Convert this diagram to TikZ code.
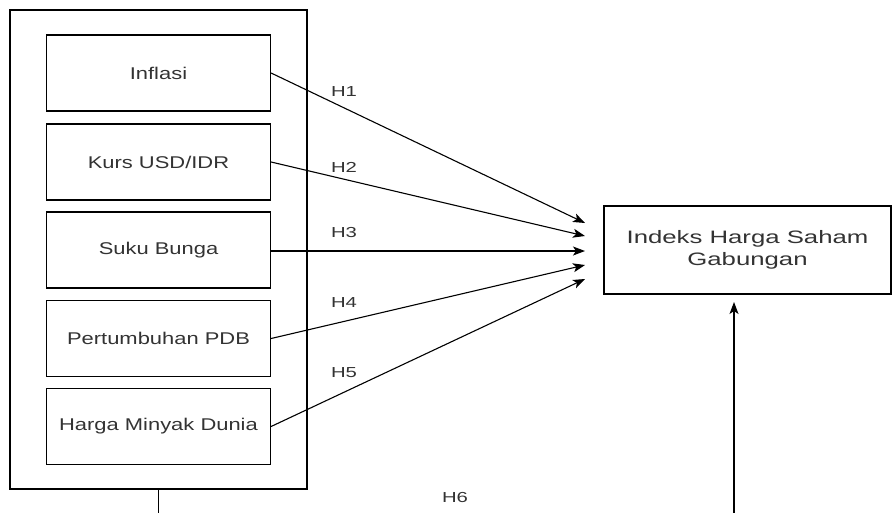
\documentclass[tikz,border=0pt]{standalone}
\usepackage{fontspec}
\usepackage{graphicx}
\setmainfont{Liberation Sans}
\usetikzlibrary{arrows.meta}
\definecolor{txt}{HTML}{333333}
\newcommand{\wtxt}[2]{\scalebox{#1}[1]{#2}}
\tikzset{
  box/.style={draw=black, line width=1.2pt, minimum width=224pt, minimum height=76pt, inner sep=0pt,
    text=txt, font=\fontsize{17}{20}\selectfont},
  conn/.style={draw=black, line width=1.1pt, -{Stealth[length=12pt,width=9pt,inset=3pt]}},
  plain/.style={draw=black, line width=1.1pt},
  hlab/.style={text=txt, font=\fontsize{14.5}{16}\selectfont, inner sep=0pt}
}
\begin{document}
\begin{tikzpicture}[x=1pt,y=-1pt]
\useasboundingbox (0,0) rectangle (892,512);
\clip (0,0) rectangle (892,512);
\node[draw=black, line width=1.2pt, minimum width=297pt, minimum height=479pt, inner sep=0pt] (outer) at (158.5,249.5) {};
\node[box] (inf) at (158.5,73) {\wtxt{1.29}{Inflasi}};
\node[box] (kurs) at (158.5,162) {\wtxt{1.29}{Kurs USD/IDR}};
\node[box] (suku) at (158.5,250) {\wtxt{1.29}{Suku Bunga}};
\node[box] (pdb) at (158.5,338.5) {\wtxt{1.29}{Pertumbuhan PDB}};
\node[box] (minyak) at (158.5,426.5) {\wtxt{1.29}{Harga Minyak Dunia}};
\node[draw=black, line width=1.2pt, minimum width=287pt, minimum height=88pt, inner sep=0pt,
  text=txt, align=center, font=\fontsize{18}{21.5}\selectfont] (ihsg) at (747.5,250)
  {\wtxt{1.43}{Indeks Harga Saham}\\\wtxt{1.43}{Gabungan}};
\coordinate (t1) at (585,223);
\coordinate (t2) at (585,236);
\coordinate (t3) at (585,251);
\coordinate (t4) at (585,265);
\coordinate (t5) at (585,279);
\coordinate (t6) at (734,302);
\coordinate (b1) at (158.5,530);
\coordinate (b2) at (734,530);
\draw[conn] (inf.east) -- (t1);
\draw[conn] (kurs.east) -- (t2);
\draw[conn] (suku.east |- t3) -- (t3);
\draw[conn] (pdb.east) -- (t4);
\draw[conn] (minyak.east) -- (t5);
\draw[plain] (outer.south) -- (b1);
\draw[conn] (b2) -- (t6);
\node[hlab] (h1) at (344,92) {\wtxt{1.4}{H1}};
\node[hlab] (h2) at (344,167) {\wtxt{1.4}{H2}};
\node[hlab] (h3) at (344,233) {\wtxt{1.4}{H3}};
\node[hlab] (h4) at (344,303) {\wtxt{1.4}{H4}};
\node[hlab] (h5) at (344,373) {\wtxt{1.4}{H5}};
\node[hlab] (h6) at (455,498) {\wtxt{1.4}{H6}};
\end{tikzpicture}
\end{document}
